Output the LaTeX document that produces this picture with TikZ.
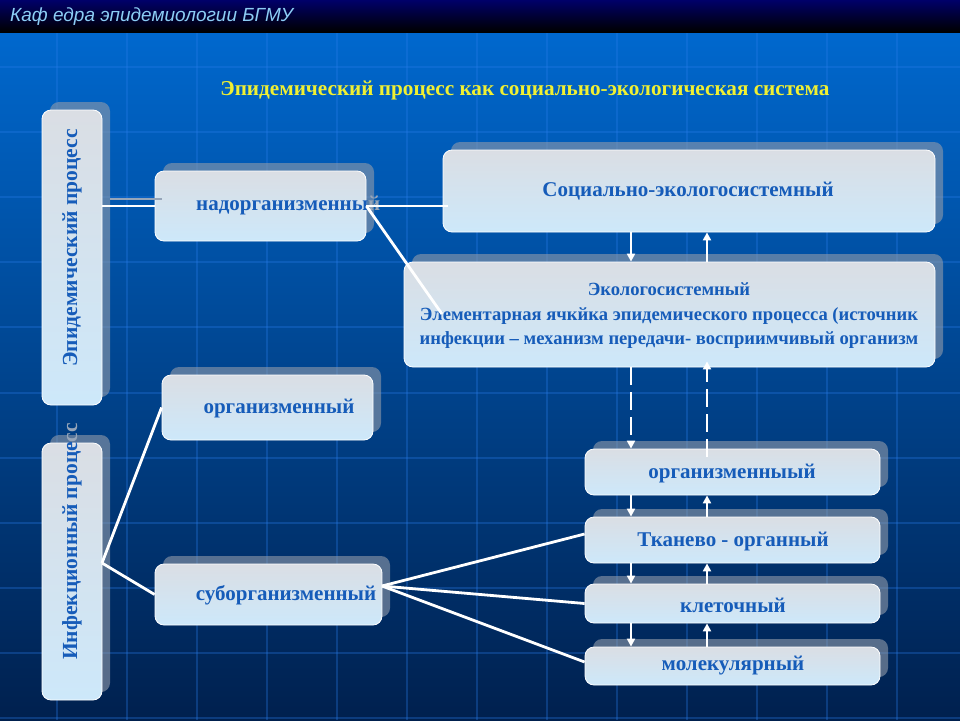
\documentclass[tikz,border=0pt]{standalone}
\usepackage{fontspec}
\setmainfont{Liberation Serif}
\newfontfamily\hdrfont{Liberation Sans}
\usetikzlibrary{shadows,arrows.meta,calc}
\definecolor{txtblue}{RGB}{22,92,185}
\definecolor{bgtop}{RGB}{0,104,206}
\definecolor{bgbot}{RGB}{0,32,78}
\definecolor{boxtop}{RGB}{218,222,228}
\definecolor{boxbot}{RGB}{205,232,250}
\definecolor{shadowc}{RGB}{145,155,170}
\definecolor{gridc}{RGB}{40,125,235}
\definecolor{titleyel}{RGB}{240,240,50}
\definecolor{hdrblue}{RGB}{140,205,245}
\definecolor{overgrey}{RGB}{150,165,185}
\definecolor{barnavy}{RGB}{0,0,105}
\tikzset{
  panel/.style={rounded corners=9pt, top color=boxtop, bottom color=boxbot,
    draw=white, line width=0.8pt, inner sep=0pt,
    general shadow={fill=shadowc, opacity=0.6, shadow xshift=8pt, shadow yshift=8pt}},
  lbl/.style={font=\fontsize{21}{23}\selectfont\bfseries, text=txtblue, inner sep=0pt},
  vlbl/.style={lbl, font=\fontsize{21.5}{23}\selectfont\bfseries, rotate=90},
  link/.style={draw=white, line width=2.8pt},
  arr/.style={draw=white, line width=2.2pt, -{Triangle[length=8pt,width=8pt]}},
  darr/.style={arr, dash pattern=on 18pt off 7pt},
  gridline/.style={draw=gridc, line width=1.3pt, opacity=0.3},
}
\begin{document}
\begin{tikzpicture}[x=1pt,y=-1pt]
\useasboundingbox (0,0) rectangle (960,720);
% background
\shade[top color=bgtop, bottom color=bgbot] (0,32) rectangle (960,720);
\shade[top color=barnavy, bottom color=black] (0,0) rectangle (960,32);
% grid
\foreach \gy in {67,132,197,262,327,393,458,523,588,653,718}
  \draw[gridline] (0,\gy) -- (960,\gy);
\foreach \xm in {-13,57,127,197,267,337,407,477,547,617,687,757,827,897,967}
  \draw[gridline] plot[domain=33:720, samples=25, smooth] ({480+(\xm-480)*(1-0.00000135*(\x-340)*(\x-340))}, \x);
% header
\node[anchor=west, inner sep=0pt, font=\hdrfont\itshape\fontsize{19}{21}\selectfont, text=hdrblue] (hdr) at (10,17) {Каф едра эпидемиологии БГМУ};
\node[inner sep=0pt, font=\fontsize{21.2}{23}\selectfont\bfseries, text=titleyel] (ttl) at (525,90) {Эпидемический процесс как социально-экологическая система};
% boxes
\node[panel, minimum width=60pt, minimum height=295pt] (epi) at (72,257.5) {};
\node[panel, minimum width=60pt, minimum height=257pt] (inf) at (72,571.5) {};
\node[panel, minimum width=211pt, minimum height=70pt] (nad) at (260.5,206) {};
\node[panel, minimum width=211pt, minimum height=65pt] (org) at (267.5,407.5) {};
\node[panel, minimum width=227pt, minimum height=61pt] (sub) at (268.5,594.5) {};
\node[panel, minimum width=492pt, minimum height=82pt] (soc) at (689,191) {};
\node[panel, minimum width=531pt, minimum height=105pt] (eco) at (669.5,314.5) {};
\node[panel, minimum width=295pt, minimum height=46pt] (org2) at (732.5,472) {};
\node[panel, minimum width=295pt, minimum height=46pt] (tkan) at (732.5,540) {};
\node[panel, minimum width=295pt, minimum height=39pt] (klet) at (732.5,603.5) {};
\node[panel, minimum width=295pt, minimum height=38pt] (mol) at (732.5,666) {};
% texts
\node[vlbl] (epitxt) at (72,248) {Эпидемический процесс};
\node[vlbl, anchor=west] (inftxt) at (72,660) {Инфекционный проце\textcolor{overgrey}{сс}};
\node[lbl, anchor=west] (nadtxt) at (196,206) {надорганизменны\textcolor{overgrey}{й}};
\node[lbl] (orgtxt) at (279,408) {организменный};
\node[lbl] (subtxt) at (286,595) {суборганизменный};
\node[lbl] (soctxt) at (688,191) {Социально-экологосистемный};
\node[lbl, font=\fontsize{18.6}{24.5}\selectfont\bfseries, align=center] (ecotxt) at (669,316)
  {Экологосистемный\\Элементарная ячкйка эпидемического процесса (источник\\инфекции – механизм передачи- восприимчивый организм};
\node[lbl] (org2txt) at (732,473) {организменныый};
\node[lbl] (tkantxt) at (733,541) {Тканево - органный};
\node[lbl] (klettxt) at (733,605) {клеточный};
\node[lbl] (moltxt) at (733,666) {молекулярный};
% connectors
\coordinate (ecoin) at (442,314);
\coordinate (infj) at (102,563);
\coordinate (subj) at (382,586);
\coordinate (dx) at (631,0);
\coordinate (ux) at (707,0);
\draw[draw=overgrey, line width=2.5pt] ($(epi.east |- nad.west)+(8,-7)$) -- ($(nad.west)+(7,-7)$);
\draw[link] (epi.east |- nad.west) -- (nad.west);
\draw[link] (nad.east) -- ($(soc.west |- nad.east)+(5,0)$);
\draw[link] (nad.east) -- (ecoin);
\draw[link] (infj) -- (org.west);
\draw[link] (infj) -- (sub.west);
\draw[link] (subj) -- ($(tkan.west)+(0,-6)$);
\draw[link] (subj) -- (klet.west);
\draw[link] (subj) -- ($(mol.west)+(0,-4)$);
% arrows
\draw[arr] (soc.south -| dx) -- (eco.north -| dx);
\draw[arr] (eco.north -| ux) -- (soc.south -| ux);
\draw[darr] (eco.south -| dx) -- (org2.north -| dx);
\draw[darr] ($(org2.north -| ux)+(0,8)$) -- ($(eco.south -| ux)+(0,-6)$);
\draw[arr] (org2.south -| dx) -- (tkan.north -| dx);
\draw[arr] (tkan.north -| ux) -- (org2.south -| ux);
\draw[arr] (tkan.south -| dx) -- (klet.north -| dx);
\draw[arr] (klet.north -| ux) -- (tkan.south -| ux);
\draw[arr] (klet.south -| dx) -- (mol.north -| dx);
\draw[arr] (mol.north -| ux) -- (klet.south -| ux);
\end{tikzpicture}
\end{document}
